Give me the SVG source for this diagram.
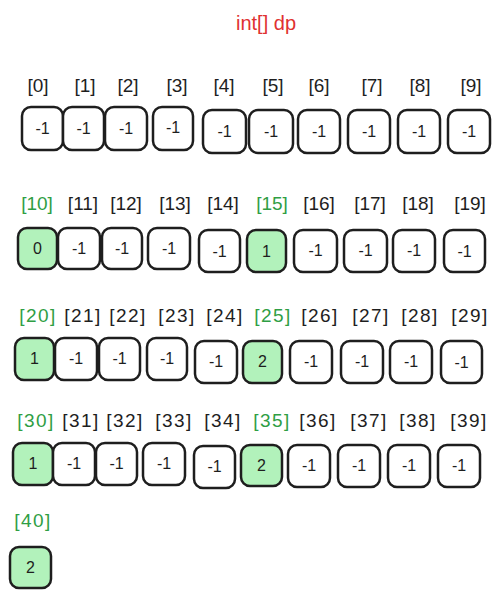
<svg xmlns="http://www.w3.org/2000/svg" width="504" height="598" viewBox="0 0 504 598">
<style>
.b{fill:#fff;stroke:#1e1e1e;stroke-width:2.5}
.g{fill:#b2f2bb;stroke:#1e1e1e;stroke-width:2.5}
.l{font-family:"Liberation Sans",Arial,sans-serif;font-size:19px;fill:#1e1e1e;text-anchor:middle}
.lg{font-family:"Liberation Sans",Arial,sans-serif;font-size:19px;fill:#2f9e44;text-anchor:middle}
.w{letter-spacing:1.5px}
.v{font-family:"Liberation Sans",Arial,sans-serif;font-size:16px;fill:#1e1e1e;text-anchor:middle}
.t{font-family:"Liberation Sans",Arial,sans-serif;font-size:20px;fill:#e03131;text-anchor:middle}
</style>
<rect width="504" height="598" fill="#fff"/>
<text class="t" x="266" y="30">int[] dp</text>
<g id="labels">
<text class="l" x="38" y="92">[0]</text><text class="l" x="85" y="92">[1]</text><text class="l" x="128" y="92">[2]</text><text class="l" x="177" y="92">[3]</text><text class="l" x="224" y="92">[4]</text><text class="l" x="273" y="92">[5]</text><text class="l" x="319" y="92">[6]</text><text class="l" x="372" y="92">[7]</text><text class="l" x="420" y="92">[8]</text><text class="l" x="471" y="92">[9]</text>
<text class="lg" x="37" y="210">[10]</text><text class="l" x="83" y="210">[11]</text><text class="l" x="126" y="210">[12]</text><text class="l" x="175" y="210">[13]</text><text class="l" x="223" y="210">[14]</text><text class="lg" x="272" y="210">[15]</text><text class="l" x="319" y="210">[16]</text><text class="l" x="370" y="210">[17]</text><text class="l" x="418" y="210">[18]</text><text class="l" x="470" y="210">[19]</text>
<g class="w">
<text class="lg" x="38" y="322">[20]</text><text class="l" x="83" y="322">[21]</text><text class="l" x="128" y="322">[22]</text><text class="l" x="177" y="322">[23]</text><text class="l" x="225" y="322">[24]</text><text class="lg" x="273" y="322">[25]</text><text class="l" x="320" y="322">[26]</text><text class="l" x="371" y="322">[27]</text><text class="l" x="420" y="322">[28]</text><text class="l" x="470" y="322">[29]</text>
<text class="lg" x="36" y="427">[30]</text><text class="l" x="81" y="427">[31]</text><text class="l" x="125" y="427">[32]</text><text class="l" x="174" y="427">[33]</text><text class="l" x="223" y="427">[34]</text><text class="lg" x="272" y="427">[35]</text><text class="l" x="318" y="427">[36]</text><text class="l" x="369" y="427">[37]</text><text class="l" x="418" y="427">[38]</text><text class="l" x="469" y="427">[39]</text>
<text class="lg" x="33" y="527">[40]</text>
</g>
</g>
<g id="row0">
<g id="n0"><rect class="b" x="22" y="107" width="41" height="43" rx="9"/><text class="v" x="42.5" y="134">-1</text></g>
<g id="n1"><rect class="b" x="63" y="107" width="41" height="43" rx="9"/><text class="v" x="83.5" y="134">-1</text></g>
<g id="n2"><rect class="b" x="105" y="107" width="42" height="43" rx="9"/><text class="v" x="126" y="134">-1</text></g>
<g id="n3"><rect class="b" x="153" y="107" width="40" height="43" rx="9"/><text class="v" x="173" y="133">-1</text></g>
<g id="n4"><rect class="b" x="203" y="110" width="43" height="43" rx="9"/><text class="v" x="224.5" y="137">-1</text></g>
<g id="n5"><rect class="b" x="249" y="110" width="44" height="43" rx="9"/><text class="v" x="271" y="137">-1</text></g>
<g id="n6"><rect class="b" x="298" y="110" width="42" height="43" rx="9"/><text class="v" x="319" y="137">-1</text></g>
<g id="n7"><rect class="b" x="348" y="110" width="42" height="43" rx="9"/><text class="v" x="369" y="137">-1</text></g>
<g id="n8"><rect class="b" x="398" y="110" width="42" height="43" rx="9"/><text class="v" x="419" y="137">-1</text></g>
<g id="n9"><rect class="b" x="448" y="110" width="42" height="43" rx="9"/><text class="v" x="469" y="137">-1</text></g>
</g>
<g id="row1">
<g id="n10"><rect class="g" x="18" y="228" width="39" height="41" rx="9"/><text class="v" x="37.5" y="254">0</text></g>
<g id="n11"><rect class="b" x="58" y="228" width="42" height="41" rx="9"/><text class="v" x="79" y="254">-1</text></g>
<g id="n12"><rect class="b" x="102" y="228" width="40" height="41" rx="9"/><text class="v" x="122" y="254">-1</text></g>
<g id="n13"><rect class="b" x="148" y="228" width="42" height="41" rx="9"/><text class="v" x="169" y="254">-1</text></g>
<g id="n14"><rect class="b" x="199" y="230" width="41" height="42" rx="9"/><text class="v" x="219.5" y="257">-1</text></g>
<g id="n15"><rect class="g" x="247" y="230" width="39" height="42" rx="9"/><text class="v" x="266.5" y="257">1</text></g>
<g id="n16"><rect class="b" x="294" y="230" width="43" height="42" rx="9"/><text class="v" x="315.5" y="256">-1</text></g>
<g id="n17"><rect class="b" x="344" y="230" width="43" height="42" rx="9"/><text class="v" x="365.5" y="256">-1</text></g>
<g id="n18"><rect class="b" x="393" y="230" width="42" height="42" rx="9"/><text class="v" x="414" y="256">-1</text></g>
<g id="n19"><rect class="b" x="444" y="230" width="41" height="42" rx="9"/><text class="v" x="464.5" y="257">-1</text></g>
</g>
<g id="row2">
<g id="n20"><rect class="g" x="15" y="338" width="39" height="42" rx="9"/><text class="v" x="34.5" y="364">1</text></g>
<g id="n21"><rect class="b" x="55" y="338" width="42" height="42" rx="9"/><text class="v" x="76" y="364">-1</text></g>
<g id="n22"><rect class="b" x="99" y="338" width="41" height="42" rx="9"/><text class="v" x="119.5" y="364">-1</text></g>
<g id="n23"><rect class="b" x="147" y="338" width="40" height="42" rx="9"/><text class="v" x="167" y="364">-1</text></g>
<g id="n24"><rect class="b" x="195" y="341" width="42" height="42" rx="9"/><text class="v" x="216" y="367">-1</text></g>
<g id="n25"><rect class="g" x="243" y="341" width="39" height="42" rx="9"/><text class="v" x="262.5" y="367">2</text></g>
<g id="n26"><rect class="b" x="290" y="341" width="42" height="42" rx="9"/><text class="v" x="311" y="367">-1</text></g>
<g id="n27"><rect class="b" x="341" y="341" width="42" height="42" rx="9"/><text class="v" x="362" y="367">-1</text></g>
<g id="n28"><rect class="b" x="390" y="341" width="42" height="42" rx="9"/><text class="v" x="411" y="367">-1</text></g>
<g id="n29"><rect class="b" x="441" y="341" width="41" height="42" rx="9"/><text class="v" x="461.5" y="368">-1</text></g>
</g>
<g id="row3">
<g id="n30"><rect class="g" x="13" y="443" width="40" height="42" rx="9"/><text class="v" x="33" y="469">1</text></g>
<g id="n31"><rect class="b" x="53" y="443" width="42" height="42" rx="9"/><text class="v" x="74" y="469">-1</text></g>
<g id="n32"><rect class="b" x="96" y="443" width="41" height="42" rx="9"/><text class="v" x="116.5" y="469">-1</text></g>
<g id="n33"><rect class="b" x="143" y="443" width="42" height="42" rx="9"/><text class="v" x="164" y="469">-1</text></g>
<g id="n34"><rect class="b" x="194" y="446" width="41" height="42" rx="9"/><text class="v" x="214.5" y="472">-1</text></g>
<g id="n35"><rect class="g" x="241" y="445" width="41" height="41" rx="9"/><text class="v" x="261.5" y="471">2</text></g>
<g id="n36"><rect class="b" x="288" y="445" width="42" height="42" rx="9"/><text class="v" x="309" y="471">-1</text></g>
<g id="n37"><rect class="b" x="338" y="445" width="42" height="42" rx="9"/><text class="v" x="359" y="471">-1</text></g>
<g id="n38"><rect class="b" x="388" y="445" width="42" height="42" rx="9"/><text class="v" x="409" y="471">-1</text></g>
<g id="n39"><rect class="b" x="438" y="445" width="42" height="42" rx="9"/><text class="v" x="459" y="471">-1</text></g>
</g>
<g id="row4">
<g id="n40"><rect class="g" x="10" y="547" width="41" height="41" rx="9"/><text class="v" x="30.5" y="573">2</text></g>
</g>
</svg>
